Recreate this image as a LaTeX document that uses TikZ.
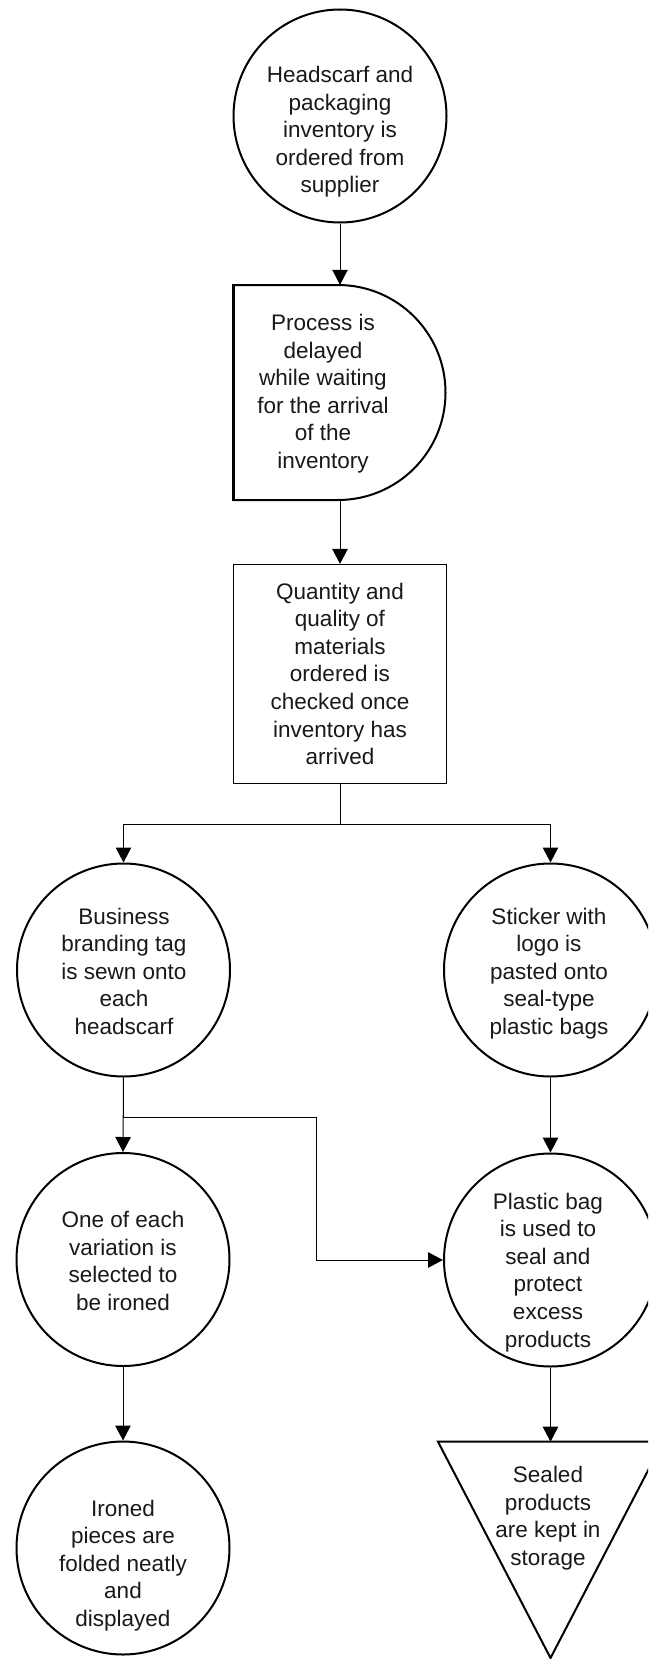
\documentclass[tikz,border=0pt]{standalone}
\usepackage{fontspec}
\setmainfont{Liberation Sans}
\usetikzlibrary{arrows.meta}
\definecolor{txtc}{RGB}{25,25,25}
\begin{document}
\begin{tikzpicture}[x=1pt,y=-1pt,
  circ/.style={draw=black, line width=2pt, circle, minimum size=213pt, inner sep=0pt},
  boxn/.style={draw=black, line width=1.3pt, rectangle, minimum width=213pt, minimum height=219pt, inner sep=0pt},
  ghost/.style={rectangle, minimum width=213pt, minimum height=215pt, inner sep=0pt},
  txt/.style={anchor=north, inner sep=0pt, align=center, text=txtc, font=\fontsize{22.5}{27.6}\selectfont},
  arr/.style={draw=black, line width=1pt, -{Triangle[length=15pt,width=15.5pt]}},
  ln/.style={draw=black, line width=1pt}
]
\useasboundingbox (0,0) rectangle (648,1659);
\fill[white] (0,0) rectangle (648,1659);
\clip (0,0) rectangle (648,1659);

% shapes
\node[circ] (order) at (340,116) {};
\node[ghost] (delay) at (338.5,392.5) {};
\draw[line width=2pt] (233,285) -- (338,285) arc[start angle=-90, end angle=90, radius=107.5] -- (233,500);
\draw[line width=3pt] (233,283.8) -- (233,501.2);
\node[boxn] (check) at (340,674) {};
\node[circ] (brand) at (123.5,970) {};
\node[circ] (sticker) at (550.5,970) {};
\node[circ] (select) at (123,1259.5) {};
\node[circ] (plastic) at (550.5,1260) {};
\node[circ] (ironed) at (123,1548) {};
\draw[line width=2pt] (438,1441.7) -- (663,1441.7) -- (550.5,1658) -- cycle;
\coordinate (storetop) at (550.5,1441.7);

% texts
\node[txt] (t1) at (340,66) {Headscarf and\\packaging\\inventory is\\ordered from\\supplier};
\node[txt] (t2) at (323,314) {Process is\\delayed\\while waiting\\for the arrival\\of the\\inventory};
\node[txt] (t3) at (340,582.5) {Quantity and\\quality of\\materials\\ordered is\\checked once\\inventory has\\arrived};
\node[txt] (t4) at (124,907.5) {Business\\branding tag\\is sewn onto\\each\\headscarf};
\node[txt] (t5) at (549,907.5) {Sticker with\\logo is\\pasted onto\\seal-type\\plastic bags};
\node[txt] (t6) at (123,1211) {One of each\\variation is\\selected to\\be ironed};
\node[txt] (t7) at (548,1192.5) {Plastic bag\\is used to\\seal and\\protect\\excess\\products};
\node[txt] (t8) at (123,1499.5) {Ironed\\pieces are\\folded neatly\\and\\displayed};
\node[txt] (t9) at (548,1466) {Sealed\\products\\are kept in\\storage};

% connectors
\draw[arr] (order.south) -- (delay.north -| order.south);
\draw[arr] (delay.south -| order.south) -- (check.north);
\draw[arr] (check.south) -- ++(0,40) -| (brand.north);
\draw[arr] (check.south) -- ++(0,40) -| (sticker.north);
\draw[arr] (brand.south) -- (select.north);
\draw[arr] (brand.south) |- (316,1117) |- (plastic.west);
\draw[arr] (sticker.south) -- (plastic.north);
\draw[arr] (select.south) -- (ironed.north);
\draw[arr] (plastic.south) -- (storetop);
\end{tikzpicture}
\end{document}
